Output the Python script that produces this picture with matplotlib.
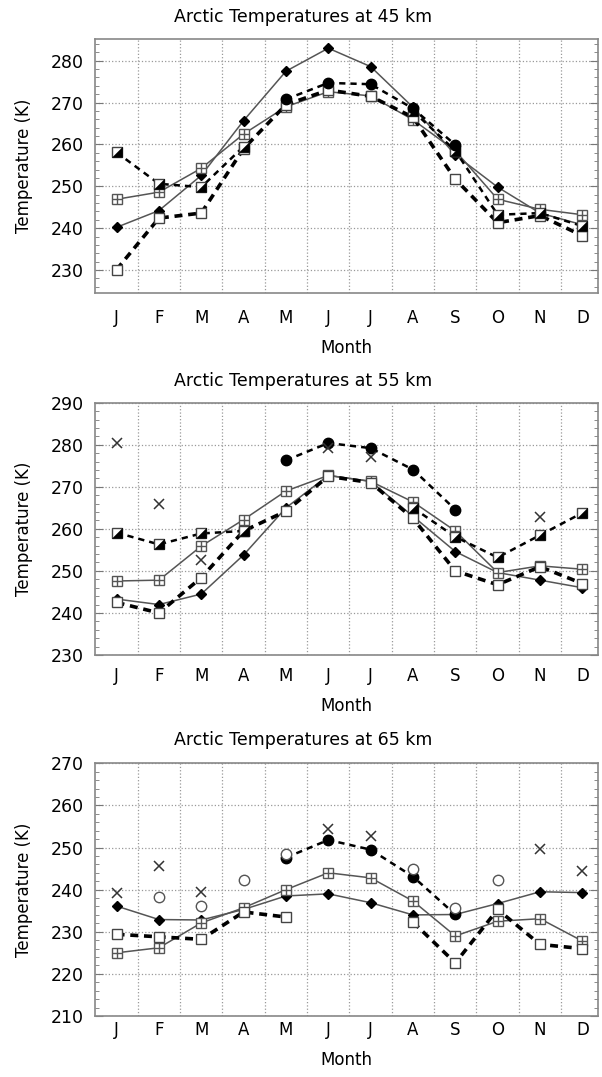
import numpy as np
import matplotlib.pyplot as plt
from matplotlib.ticker import MultipleLocator

months = ['J', 'F', 'M', 'A', 'M', 'J', 'J', 'A', 'S', 'O', 'N', 'D']
nan = np.nan

# 45 km
t45_diamond = [240.2, 244.2, 252.6, 265.7, 277.5, 283.0, 278.6, 268.9, 257.5, 249.8, 243.6, 240.8]
t45_plus = [246.9, 248.6, 254.3, 262.5, 269.0, 272.6, 271.6, 265.9, 258.5, 246.9, 244.5, 243.2]
t45_open = [230.1, 242.4, 243.6, 259.0, 269.5, 273.0, 271.5, 266.5, 251.7, 241.3, 243.0, 238.2]
t45_half = [258.1, 250.6, 249.8, 259.5, nan, nan, nan, 268.0, 258.5, 243.2, 243.6, 240.5]
t45_circle = [nan, nan, nan, nan, 270.8, 274.7, 274.4, 268.6, 259.9, nan, nan, nan]
t45_x = [nan] * 12
t45_ring = [nan] * 12

# 55 km
t55_diamond = [243.3, 242.0, 244.5, 253.8, 265.0, 272.7, 271.3, 263.0, 254.6, 249.6, 247.8, 246.0]
t55_plus = [247.6, 247.8, 255.9, 262.2, 269.0, 272.7, 271.3, 266.4, 259.5, 249.6, 251.2, 250.4]
t55_open = [242.5, 240.0, 248.4, 259.5, 264.2, 272.5, 271.0, 262.5, 250.0, 246.7, 251.0, 247.0]
t55_half = [259.1, 256.3, 258.9, 259.5, nan, nan, nan, 265.0, 258.1, 253.2, 258.5, 263.8]
t55_circle = [nan, nan, nan, nan, 276.3, 280.4, 279.2, 274.1, 264.6, nan, nan, nan]
t55_x = [280.4, 265.9, 252.6, nan, nan, 279.2, 277.0, nan, nan, nan, 262.9, nan]
t55_ring = [nan] * 12

# 65 km
t65_diamond = [236.1, 232.9, 232.8, 235.3, 238.5, 239.0, 236.9, 234.0, 234.1, 236.7, 239.5, 239.3]
t65_plus = [225.0, 226.2, 232.1, 235.7, 240.0, 244.0, 242.8, 237.3, 229.0, 232.5, 233.1, 227.8]
t65_open = [229.4, 228.8, 228.2, 234.7, 233.5, nan, nan, 232.3, 222.6, 235.3, 227.0, 226.0]
t65_half = [nan] * 12
t65_circle = [nan, nan, nan, nan, 247.6, 251.8, 249.5, 243.1, 234.1, nan, nan, nan]
t65_x = [239.1, 245.6, 239.5, nan, nan, 254.5, 252.7, nan, nan, nan, 249.7, 244.4]
t65_ring = [nan, 238.2, 236.1, 242.3, 248.4, nan, nan, 245.0, 235.7, 242.2, nan, nan]

panels = [
    ('Arctic Temperatures at 45 km', (224.5, 285.2),
     t45_diamond, t45_plus, t45_open, t45_half, t45_circle, t45_x, t45_ring),
    ('Arctic Temperatures at 55 km', (230, 290),
     t55_diamond, t55_plus, t55_open, t55_half, t55_circle, t55_x, t55_ring),
    ('Arctic Temperatures at 65 km', (210, 270),
     t65_diamond, t65_plus, t65_open, t65_half, t65_circle, t65_x, t65_ring),
]

plt.rcParams['font.family'] = 'DejaVu Sans'
fig = plt.figure(figsize=(6.02, 10.77), dpi=100)

# axes rectangles in pixels: top, bottom
rects = [(39, 293), (402.7, 655), (763.3, 1016)]
title_y = [17, 381, 740]
month_pad = [11.5, 8.5, 3.5]
H = 1077.0
W = 602.0
x = np.arange(12)
half_tri = [(1, -1), (1, 1), (-1, -1)]
gray = '#555555'

for (title, ylim, dia, plus, opn, half, circ, xs, ring), (top, bot), ty, mp in zip(panels, rects, title_y, month_pad):
    ax = fig.add_axes([95 / W, 1 - bot / H, 503 / W, (bot - top) / H])

    ax.plot(x, dia, '-', color=gray, lw=1.1, marker='D', ms=5.5, mfc='black', mec='black', zorder=3)
    ax.plot(x, plus, '-', color=gray, lw=1.1, marker='s', ms=7.5, mfc='white', mec=gray, zorder=3)
    ax.plot(x, plus, ls='none', marker='+', ms=7.5, mec=gray, mew=1.0, zorder=3)
    ax.plot(x, opn, ls=(0, (2.2, 1.6)), color='black', lw=2.6, marker='s', ms=7.5,
            mfc='white', mec='#444444', zorder=4)
    ax.plot(x, half, ls=(0, (2.5, 2)), color='black', lw=1.8, marker='s', ms=7.5,
            mfc='white', mec='#444444', zorder=4)
    ax.plot(x, half, ls='none', marker=half_tri, ms=7.5, mfc='black', mec='black', mew=0.3, zorder=4)
    ax.plot(x, circ, ls=(0, (2.5, 2)), color='black', lw=1.8, marker='o', ms=7.5,
            mfc='black', mec='black', zorder=4)
    ax.plot(x, xs, ls='none', marker='x', ms=7, mec='#333333', mew=1.1, zorder=4)
    ax.plot(x, ring, ls='none', marker='o', ms=7.5, mfc='white', mec='#555555', mew=1.0, zorder=4)

    ax.set_xlim(-0.51, 11.37)
    ax.set_ylim(*ylim)
    ax.set_xticks(x)
    ax.set_xticklabels(months)
    ax.set_xticks(np.arange(0.5, 11), minor=True)
    ax.yaxis.set_major_locator(MultipleLocator(10))
    ax.yaxis.set_minor_locator(MultipleLocator(2))
    ax.grid(True, which='minor', axis='x', ls=':', color='#999999', lw=0.9)
    ax.grid(True, which='major', axis='y', ls=':', color='#999999', lw=0.9)
    ax.tick_params(axis='x', which='both', length=0, pad=mp, labelsize=12)
    ax.tick_params(axis='y', which='major', direction='in', length=6, right=True,
                   labelsize=12.5, pad=8, color='#777777')
    ax.tick_params(axis='y', which='minor', direction='in', length=3, right=True, color='#777777')
    for s in ax.spines.values():
        s.set_color('#888888')
        s.set_linewidth(1.2)
    ax.set_xlabel('Month', fontsize=12, labelpad=8.5)
    ax.set_ylabel('Temperature (K)', fontsize=12, labelpad=13)
    fig.text(303 / W, 1 - ty / H, title, ha='center', va='center', fontsize=12.5)

fig.savefig('out.png', dpi=100)
